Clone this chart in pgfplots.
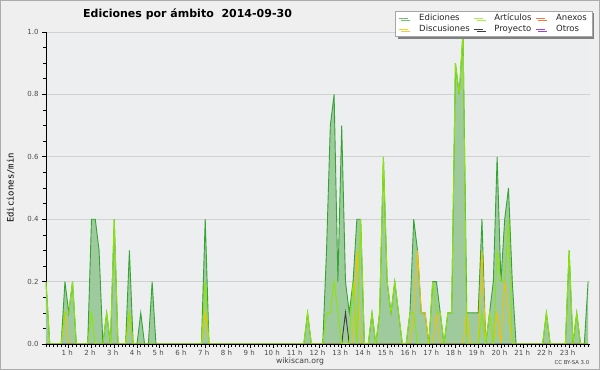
\documentclass[border=0pt]{standalone}
\usepackage{fontspec}
\setmainfont{DejaVu Sans}
\newfontfamily\monofont{DejaVu Sans Mono}
\usepackage{pgfplots}
\pgfplotsset{compat=1.18}
\usepackage{pgfplotstable}
\usetikzlibrary{shadows}
\definecolor{bg}{RGB}{239,239,239}
\definecolor{plotbg}{RGB}{237,238,240}
\definecolor{edc}{RGB}{50,165,50}
\definecolor{edfill}{RGB}{158,202,158}
\definecolor{artc}{RGB}{140,230,0}
\definecolor{disc}{RGB}{240,195,0}
\definecolor{proc}{RGB}{60,60,60}
\definecolor{anec}{RGB}{240,120,70}
\definecolor{otrc}{RGB}{150,70,230}

\pgfplotstableread{
i E A D P
0 0.2 0.2 0 0
1 0 0 0 0
2 0 0 0 0
3 0 0 0 0
4 0 0 0 0
5 0.2 0.1 0.1 0
6 0.1 0.1 0 0
7 0.2 0.2 0 0
8 0 0 0 0
9 0 0 0 0
10 0 0 0 0
11 0 0 0 0
12 0.4 0.1 0 0
13 0.4 0 0 0
14 0.3 0 0 0
15 0 0 0 0
16 0.1 0.1 0 0
17 0 0 0 0
18 0.4 0.4 0 0
19 0 0 0 0
20 0 0 0 0
21 0 0 0 0
22 0.3 0.1 0.1 0
23 0 0 0 0
24 0 0 0 0
25 0.1 0 0 0
26 0 0 0 0
27 0 0 0 0
28 0.2 0 0 0
29 0 0 0 0
30 0 0 0 0
31 0 0 0 0
32 0 0 0 0
33 0 0 0 0
34 0 0 0 0
35 0 0 0 0
36 0 0 0 0
37 0 0 0 0
38 0 0 0 0
39 0 0 0 0
40 0 0 0 0
41 0 0 0 0
42 0.4 0.2 0.1 0
43 0 0 0 0
44 0 0 0 0
45 0 0 0 0
46 0 0 0 0
47 0 0 0 0
48 0 0 0 0
49 0 0 0 0
50 0 0 0 0
51 0 0 0 0
52 0 0 0 0
53 0 0 0 0
54 0 0 0 0
55 0 0 0 0
56 0 0 0 0
57 0 0 0 0
58 0 0 0 0
59 0 0 0 0
60 0 0 0 0
61 0 0 0 0
62 0 0 0 0
63 0 0 0 0
64 0 0 0 0
65 0 0 0 0
66 0 0 0 0
67 0 0 0 0
68 0 0 0 0
69 0.1 0.1 0 0
70 0 0 0 0
71 0 0 0 0
72 0 0 0 0
73 0 0 0 0
74 0.3 0.1 0 0
75 0.7 0.1 0 0
76 0.8 0.2 0 0
77 0.2 0.1 0 0
78 0.7 0 0 0
79 0.2 0 0 0.1
80 0.1 0 0 0
81 0.2 0.2 0 0
82 0.4 0 0.3 0
83 0.4 0.4 0 0
84 0 0 0 0
85 0 0 0 0
86 0.1 0.1 0 0
87 0 0 0 0
88 0.1 0.1 0 0
89 0.6 0.6 0 0
90 0.2 0.2 0 0
91 0.1 0.1 0 0
92 0.2 0.2 0 0
93 0.1 0.1 0 0
94 0 0 0 0
95 0 0 0 0
96 0.1 0.1 0 0
97 0.4 0.1 0.1 0
98 0.3 0 0.3 0
99 0.1 0 0.1 0
100 0.1 0 0.1 0
101 0 0 0 0
102 0.2 0.2 0 0
103 0.2 0.1 0.1 0
104 0.1 0.1 0 0
105 0 0 0 0
106 0.1 0.1 0 0
107 0.1 0.1 0 0
108 0.9 0.9 0 0
109 0.8 0.8 0 0
110 1.0 1.0 0 0
111 0.1 0 0.1 0
112 0.1 0 0 0
113 0.1 0 0 0
114 0.1 0 0 0
115 0.4 0.1 0.3 0
116 0 0 0 0
117 0.1 0.1 0 0
118 0.2 0 0 0
119 0.6 0.3 0.1 0
120 0.2 0.2 0 0
121 0.4 0.2 0.2 0
122 0.5 0.4 0.1 0
123 0.2 0 0 0
124 0 0 0 0
125 0 0 0 0
126 0 0 0 0
127 0 0 0 0
128 0 0 0 0
129 0 0 0 0
130 0 0 0 0
131 0 0 0 0
132 0.1 0.1 0 0
133 0 0 0 0
134 0 0 0 0
135 0 0 0 0
136 0 0 0 0
137 0 0 0 0
138 0.3 0.3 0 0
139 0 0 0 0
140 0.1 0.1 0 0
141 0 0 0 0
142 0 0 0 0
143 0.2 0 0 0
}\data

\begin{document}
\begin{tikzpicture}[x=1pt,y=1pt]
\useasboundingbox (0,0) rectangle (600,370);
\fill[bg] (0,0) rectangle (600,370);
\draw[gray!65, line width=1pt] (0.5,0.5) rectangle (599.5,369.5);
\node[anchor=base, font=\bfseries\fontsize{11}{13}\selectfont] at (187.5,352.3) {Ediciones por ámbito\hspace{0.7em}2014-09-30};
\node[anchor=base, font=\fontsize{7.7}{9}\selectfont, text=black!75] at (300,6.5) {wikiscan.org};
\node[anchor=base east, font=\fontsize{5.4}{6}\selectfont, text=black!75, inner sep=0pt] at (589.5,5.7) {CC BY-SA 3.0};
\begin{axis}[
  at={(46pt,26pt)}, anchor=south west,
  scale only axis, width=544pt, height=312pt,
  xmin=0, xmax=143.5, ymin=0, ymax=1,
  axis background/.style={fill=plotbg},
  axis x line*=bottom, axis y line*=left,
  axis line style={black, line width=0.8pt, -},
  xtick={6,12,...,138},
  xticklabels={1 h,2 h,3 h,4 h,5 h,6 h,7 h,8 h,9 h,10 h,11 h,12 h,13 h,14 h,15 h,16 h,17 h,18 h,19 h,20 h,21 h,22 h,23 h},
  minor xtick={0,1,...,143},
  ytick={0,0.2,0.4,0.6,0.8,1},
  minor y tick num=3,
  ymajorgrids, major grid style={black!18, line width=0.6pt},
  tick align=outside, major tick length=4pt, minor tick length=3pt,
  every tick/.style={black, line width=0.6pt},
  ticklabel style={font=\fontsize{7}{8}\selectfont, text=black!70},
  xticklabel style={yshift=1pt, xshift=-1.5pt},
  yticklabel style={/pgf/number format/.cd, fixed, fixed zerofill, precision=1},
  /pgf/number format/assume math mode=true,
  ylabel={\monofont Ediciones/min},
  ylabel style={at={(axis description cs:-0.0649,0.5)}, anchor=center, font=\fontsize{8.9}{10}\selectfont},
  legend columns=3,
  legend cell align=left,
  legend image code/.code={\draw[#1] (0pt,0pt) -- (9pt,0pt);},
  legend style={at={(axis description cs:1.0037,1.068)}, anchor=north east,
    draw=black!35, fill=white, font=\fontsize{8.5}{9}\selectfont, text=black!85,
    inner xsep=3pt, inner ysep=1.2pt, row sep=-1.5pt,
    /tikz/every even column/.append style={column sep=2pt},
    /tikz/every odd column/.append style={column sep=9pt},
    drop shadow={shadow xshift=2.5pt, shadow yshift=-2.5pt, fill=black!50, opacity=1}},
]
\addplot[fill=edfill, draw=none, forget plot] table[x=i,y=E]{\data} \closedcycle;
\addplot[edc, line width=0.9pt, forget plot] table[x=i,y=E]{\data};
\addplot[disc, line width=0.9pt, forget plot] table[x=i,y=D]{\data};
\addplot[proc, line width=0.9pt, forget plot] table[x=i,y=P]{\data};
\addplot[artc, line width=0.9pt, forget plot] table[x=i,y=A]{\data};
\draw[black, line width=0.8pt] (axis cs:0,0) -- (axis cs:143.5,0);
\addlegendimage{edc!70, line width=0.7pt}
\addlegendentry{Ediciones}
\addlegendimage{artc!70, line width=0.7pt}
\addlegendentry{Artículos}
\addlegendimage{anec, line width=0.7pt}
\addlegendentry{Anexos}
\addlegendimage{disc!80, line width=0.7pt}
\addlegendentry{Discusiones}
\addlegendimage{proc, line width=0.7pt}
\addlegendentry{Proyecto}
\addlegendimage{otrc, line width=0.7pt}
\addlegendentry{Otros}
\end{axis}
\end{tikzpicture}
\end{document}
